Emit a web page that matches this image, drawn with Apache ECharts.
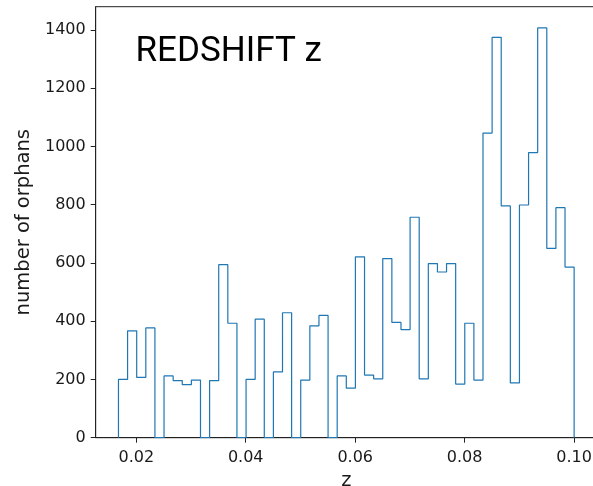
<!DOCTYPE html>
<html>
<head>
<meta charset="utf-8">
<script src="https://cdn.jsdelivr.net/npm/echarts@6/dist/echarts.min.js"></script>
<style>
  html, body { margin: 0; padding: 0; background: #fff; }
  #chart { width: 593px; height: 486px; }
</style>
</head>
<body>
<div id="chart"></div>
<script>
// Histogram of orphan counts per redshift bin (50 equal-width bins)
const binStart = 0.01675;
const binEnd = 0.1;
const counts = [
  200, 367, 207, 377, 0, 212, 196, 182, 198, 0,
  196, 594, 393, 0, 200, 407, 0, 226, 429, 0,
  198, 384, 420, 0, 212, 170, 621, 215, 202, 615,
  396, 371, 757, 202, 598, 569, 598, 184, 393, 198,
  1046, 1375, 796, 188, 799, 979, 1407, 650, 790, 586
];
const xTicks = [0.02, 0.04, 0.06, 0.08, 0.10];
const yTicks = [0, 200, 400, 600, 800, 1000, 1200, 1400];

// Bin edges and the outline of a step histogram
const nBins = counts.length;
const binWidth = (binEnd - binStart) / nBins;
const edges = [];
for (let i = 0; i <= nBins; i++) edges.push(binStart + i * binWidth);

const outline = [[edges[0], 0]];
for (let i = 0; i < nBins; i++) outline.push([edges[i], counts[i]]);
outline.push([edges[nBins], counts[nBins - 1]]);
outline.push([edges[nBins], 0]);

const chart = echarts.init(document.getElementById('chart'), null, { renderer: 'canvas' });

const tickFont = { fontFamily: 'DejaVu Sans', fontSize: 16, color: '#1a1a1a' };
const nameFont = { fontFamily: 'DejaVu Sans', fontSize: 19.5, color: '#1a1a1a' };

chart.setOption({
  animation: false,
  backgroundColor: '#ffffff',
  grid: {
    left: 95.7, top: 6.7, height: 431, width: 501.2,
    outerBoundsMode: 'none', containLabel: false,
    show: true, borderColor: '#222', borderWidth: 1, backgroundColor: 'transparent'
  },
  xAxis: {
    type: 'value',
    min: 0.01259, max: 0.10416,
    name: 'z', nameLocation: 'middle', nameGap: 32,
    nameTextStyle: nameFont,
    axisLine: { show: true, onZero: false, lineStyle: { color: '#222', width: 1 } },
    axisTick: { show: true, inside: false, length: 5, customValues: xTicks, lineStyle: { color: '#222' } },
    axisLabel: {
      margin: 12, customValues: xTicks, ...tickFont,
      formatter: v => v.toFixed(2)
    },
    splitLine: { show: false }
  },
  yAxis: {
    type: 'value',
    min: 0, max: 1480,
    name: 'number of orphans', nameLocation: 'middle', nameGap: 57,
    nameTextStyle: nameFont,
    axisLine: { show: true, lineStyle: { color: '#222', width: 1 } },
    axisTick: { show: true, inside: false, length: 5, customValues: yTicks, lineStyle: { color: '#222' } },
    axisLabel: { margin: 10, customValues: yTicks, ...tickFont, formatter: v => String(v) },
    splitLine: { show: false }
  },
  series: [{
    type: 'line',
    step: 'end',
    data: outline,
    showSymbol: false,
    symbol: 'none',
    clip: true,
    lineStyle: { color: '#1f77b4', width: 1.2 }
  }],
  graphic: [{
    type: 'text',
    left: 135.5, top: 35,
    style: {
      text: 'REDSHIFT z',
      font: '35px Roboto',
      fill: '#000'
    }
  }]
});
</script>
</body>
</html>
